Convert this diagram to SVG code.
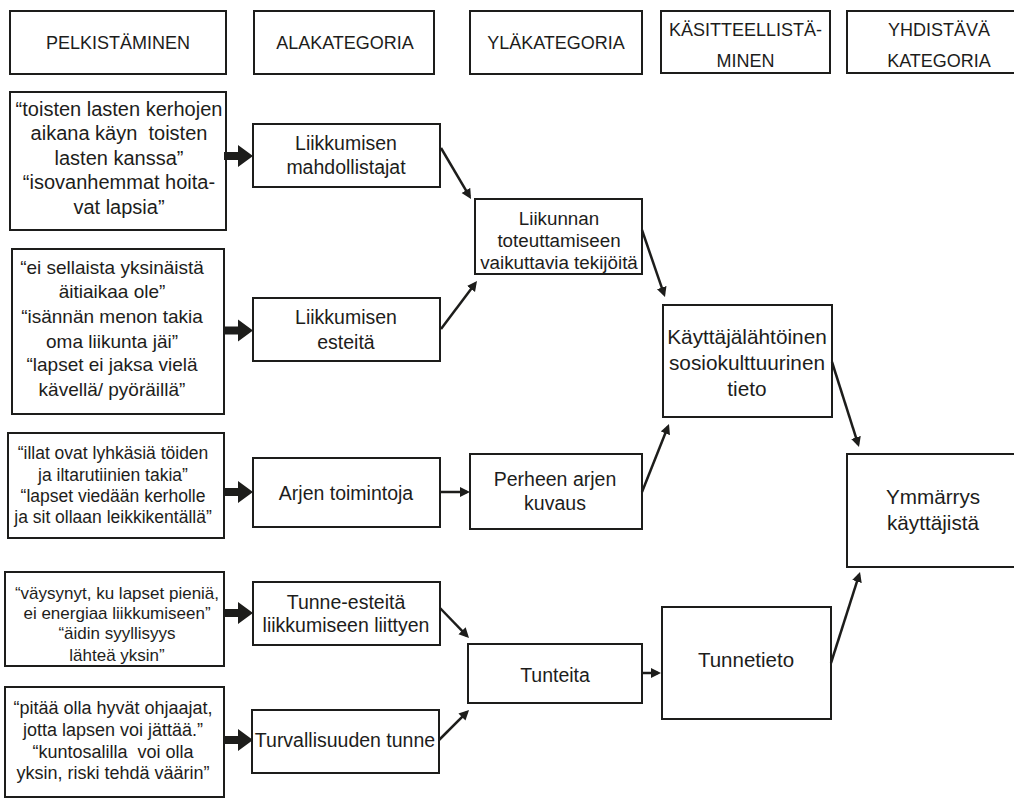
<svg xmlns="http://www.w3.org/2000/svg" width="1014" height="799" viewBox="0 0 1014 799">
  <style>
    .box { fill: #ffffff; stroke: #1d1d1b; stroke-width: 2; }
    text { font-family: "Liberation Sans", Arial, sans-serif; fill: #1d1d1b; text-anchor: middle; }
    .pre { white-space: pre; }
    .hd { font-size: 18px; }
    .cat { font-size: 19.5px; }
    .link { stroke: #1d1d1b; stroke-width: 2.5; fill: none; marker-end: url(#tip); }
    .fat { fill: #1d1d1b; }
  </style>
  <defs>
    <marker id="tip" markerUnits="userSpaceOnUse" markerWidth="11" markerHeight="11" refX="7" refY="5" orient="auto">
      <path d="M0,0 L10,5 L0,10 Z" fill="#1d1d1b"/>
    </marker>
    <path id="fatArrow" d="M224,-4 H238 V-11 L253,0 L238,11 V4 H224 Z"/>
  </defs>

  <rect width="1014" height="799" fill="#ffffff"/>

  <!-- column headers -->
  <g id="header-pelkistaminen">
    <rect class="box" x="10" y="11" width="216" height="63"/>
    <text class="hd" x="118" y="49">PELKISTÄMINEN</text>
  </g>
  <g id="header-alakategoria">
    <rect class="box" x="254" y="11" width="180" height="63"/>
    <text class="hd" x="345" y="49">ALAKATEGORIA</text>
  </g>
  <g id="header-ylakategoria">
    <rect class="box" x="470" y="11" width="172" height="63"/>
    <text class="hd" x="556" y="49">YLÄKATEGORIA</text>
  </g>
  <g id="header-kasitteellistaminen">
    <rect class="box" x="661" y="11" width="169" height="62"/>
    <text class="hd" x="745.5" y="36">KÄSITTEELLISTÄ-</text>
    <text class="hd" x="745.5" y="67">MINEN</text>
  </g>
  <g id="header-yhdistava">
    <rect class="box" x="847" y="11" width="190" height="62"/>
    <text class="hd" x="939" y="36">YHDISTÄVÄ</text>
    <text class="hd" x="939" y="67">KATEGORIA</text>
  </g>

  <!-- reduced expressions -->
  <g id="quote-1">
    <rect class="box" x="10" y="92" width="216" height="138"/>
    <g font-size="20">
      <text x="119" y="116">“toisten lasten kerhojen</text>
      <text class="pre" x="119" y="140">aikana käyn  toisten</text>
      <text x="119" y="165">lasten kanssa”</text>
      <text x="119" y="189">“isovanhemmat hoita-</text>
      <text x="119" y="214">vat lapsia”</text>
    </g>
  </g>
  <g id="quote-2">
    <rect class="box" x="12" y="249" width="212" height="165"/>
    <g font-size="19">
      <text x="112" y="274">“ei sellaista yksinäistä</text>
      <text x="112" y="298">äitiaikaa ole”</text>
      <text x="112" y="323">“isännän menon takia</text>
      <text x="112" y="348">oma liikunta jäi”</text>
      <text x="112" y="371">“lapset ei jaksa vielä</text>
      <text x="112" y="396">kävellä/ pyöräillä”</text>
    </g>
  </g>
  <g id="quote-3">
    <rect class="box" x="8" y="433" width="216" height="105"/>
    <g font-size="17.5">
      <text x="113" y="459">“illat ovat lyhkäsiä töiden</text>
      <text x="113" y="481">ja iltarutiinien takia”</text>
      <text x="113" y="502">“lapset viedään kerholle</text>
      <text x="113" y="523">ja sit ollaan leikkikentällä”</text>
    </g>
  </g>
  <g id="quote-4">
    <rect class="box" x="5" y="572" width="219" height="94"/>
    <g font-size="17">
      <text x="117" y="599">“väysynyt, ku lapset pieniä,</text>
      <text x="117" y="619">ei energiaa liikkumiseen”</text>
      <text x="117" y="639">“äidin syyllisyys</text>
      <text x="117" y="661">lähteä yksin”</text>
    </g>
  </g>
  <g id="quote-5">
    <rect class="box" x="5" y="687" width="219" height="110"/>
    <g font-size="18">
      <text x="113" y="714">“pitää olla hyvät ohjaajat,</text>
      <text x="113" y="736">jotta lapsen voi jättää.”</text>
      <text class="pre" x="113" y="758">“kuntosalilla  voi olla</text>
      <text x="113" y="779">yksin, riski tehdä väärin”</text>
    </g>
  </g>

  <!-- subcategories -->
  <g id="sub-mahdollistajat">
    <rect class="box" x="253" y="124" width="187" height="63"/>
    <text class="cat" x="346" y="150">Liikkumisen</text>
    <text class="cat" x="346" y="174">mahdollistajat</text>
  </g>
  <g id="sub-esteita">
    <rect class="box" x="253" y="298" width="187" height="63"/>
    <text class="cat" x="346" y="324">Liikkumisen</text>
    <text class="cat" x="346" y="349">esteitä</text>
  </g>
  <g id="sub-arjen-toimintoja">
    <rect class="box" x="253" y="458" width="187" height="69"/>
    <text class="cat" x="346" y="500">Arjen toimintoja</text>
  </g>
  <g id="sub-tunne-esteita">
    <rect class="box" x="253" y="582" width="187" height="63"/>
    <text class="cat" x="346" y="609">Tunne-esteitä</text>
    <text class="cat" x="346" y="632">liikkumiseen liittyen</text>
  </g>
  <g id="sub-turvallisuus">
    <rect class="box" x="252" y="710" width="187" height="63"/>
    <text class="cat" x="345" y="747">Turvallisuuden tunne</text>
  </g>

  <!-- main categories -->
  <g id="main-liikunta">
    <rect class="box" x="475" y="199" width="167" height="75"/>
    <g font-size="18.8">
      <text x="559" y="225">Liikunnan</text>
      <text x="559" y="247">toteuttamiseen</text>
      <text x="559" y="269">vaikuttavia tekijöitä</text>
    </g>
  </g>
  <g id="main-perheen-arki">
    <rect class="box" x="470" y="454" width="172" height="75"/>
    <text class="cat" x="555" y="486">Perheen arjen</text>
    <text class="cat" x="555" y="510">kuvaus</text>
  </g>
  <g id="main-tunteita">
    <rect class="box" x="468" y="644" width="174" height="59"/>
    <text class="cat" x="555" y="682">Tunteita</text>
  </g>

  <!-- concepts -->
  <g id="concept-sosiokulttuurinen">
    <rect class="box" x="663" y="305" width="169" height="112"/>
    <g font-size="20.8">
      <text x="747" y="344">Käyttäjälähtöinen</text>
      <text x="747" y="370">sosiokulttuurinen</text>
      <text x="747" y="396">tieto</text>
    </g>
  </g>
  <g id="concept-tunnetieto">
    <rect class="box" x="662" y="607" width="169" height="112"/>
    <text x="746" y="667" font-size="20.5">Tunnetieto</text>
  </g>

  <!-- combining category -->
  <g id="combined-ymmarrys">
    <rect class="box" x="847" y="454" width="190" height="113"/>
    <g font-size="20.7">
      <text x="933" y="504">Ymmärrys</text>
      <text x="933" y="530">käyttäjistä</text>
    </g>
  </g>

  <!-- connectors -->
  <g id="connectors">
    <use class="fat" href="#fatArrow" transform="translate(0,156)"/>
    <use class="fat" href="#fatArrow" transform="translate(0,330.5)"/>
    <use class="fat" href="#fatArrow" transform="translate(0,492)"/>
    <use class="fat" href="#fatArrow" transform="translate(0,613)"/>
    <use class="fat" href="#fatArrow" transform="translate(0,740)"/>

    <line class="link" x1="441" y1="148" x2="469.5" y2="196.4"/>
    <line class="link" x1="441" y1="329" x2="475.2" y2="283.4"/>
    <line class="link" x1="642" y1="230" x2="664" y2="294.2"/>
    <line class="link" x1="440" y1="492" x2="467" y2="492"/>
    <line class="link" x1="642" y1="492" x2="667.9" y2="426.8"/>
    <line class="link" x1="440" y1="608" x2="466.9" y2="635.8"/>
    <line class="link" x1="439" y1="740" x2="466.9" y2="712.1"/>
    <line class="link" x1="642" y1="673" x2="658" y2="673"/>
    <line class="link" x1="832" y1="362" x2="858.1" y2="444.1"/>
    <line class="link" x1="831" y1="663" x2="859.1" y2="574.9"/>
  </g>
</svg>
